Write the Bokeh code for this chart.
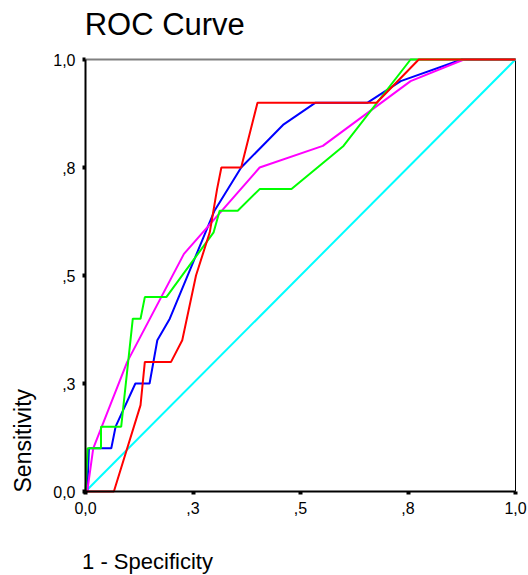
import math
from bokeh.plotting import figure
from bokeh.models import Range1d, FixedTicker, LinearAxis, Label
from bokeh.embed import file_html
from bokeh.resources import INLINE

# ---- data ----
tick_values = [0, 0.25, 0.5, 0.75, 1.0]
tick_labels = ["0,0", ",3", ",5", ",8", "1,0"]

blue_fpr = [0, 0.004, 0.008, 0.060, 0.070, 0.116, 0.149, 0.167, 0.196, 0.300, 0.362, 0.461, 0.535, 0.656, 0.733, 0.875, 1.0]
blue_tpr = [0, 0, 0.10, 0.10, 0.15, 0.25, 0.25, 0.35, 0.40, 0.65, 0.75, 0.85, 0.90, 0.90, 0.95, 1.0, 1.0]

magenta_fpr = [0, 0.004, 0.018, 0.097, 0.229, 0.405, 0.552, 0.756, 0.880, 1.0]
magenta_tpr = [0, 0, 0.10, 0.30, 0.55, 0.75, 0.80, 0.95, 1.0, 1.0]

green_fpr = [0, 0.005, 0.036, 0.036, 0.083, 0.110, 0.128, 0.138, 0.188, 0.298, 0.312, 0.354, 0.405, 0.479, 0.600, 0.756, 1.0]
green_tpr = [0, 0.10, 0.10, 0.15, 0.15, 0.40, 0.40, 0.45, 0.45, 0.60, 0.65, 0.65, 0.70, 0.70, 0.80, 1.0, 1.0]

red_fpr = [0, 0.066, 0.128, 0.138, 0.199, 0.225, 0.257, 0.289, 0.306, 0.316, 0.362, 0.400, 0.677, 0.775, 1.0]
red_tpr = [0, 0, 0.20, 0.30, 0.30, 0.35, 0.50, 0.60, 0.70, 0.75, 0.75, 0.90, 0.90, 1.0, 1.0]

ref_x = [0, 1]
ref_y = [0, 1]

title_text = "ROC Curve"
x_title = "1 - Specificity"
y_title = "Sensitivity"

FONT = "Liberation Sans"

# canvas 528x575; the unit square occupies pixels x 85..515, y 59..491
W, H = 528, 575
L, R, T, B = 85, 515, 59, 491
sx = R - L
sy = B - T
x_range = Range1d(-L / sx, (W - L) / sx)
y_range = Range1d(-(H - B) / sy, B / sy)

p = figure(width=W, height=H, output_backend="svg", toolbar_location=None,
           x_range=x_range, y_range=y_range,
           min_border=0, x_axis_location=None, y_axis_location=None)
p.background_fill_color = "white"
p.border_fill_color = "white"
p.outline_line_color = None
p.xgrid.visible = False
p.ygrid.visible = False

def style_axis(ax, standoff):
    ax.fixed_location = 0
    ax.bounds = (0, 1)
    ax.ticker = FixedTicker(ticks=tick_values)
    ax.axis_line_color = "black"
    ax.axis_line_width = 2
    ax.major_tick_line_color = "black"
    ax.minor_tick_line_color = None
    ax.major_tick_line_width = 4
    ax.major_tick_in = 0
    ax.major_tick_out = 3
    ax.major_label_overrides = {v: t for v, t in zip(tick_values, tick_labels)}
    ax.major_label_text_font = FONT
    ax.major_label_text_font_size = "16px"
    ax.major_label_text_color = "black"
    ax.major_label_standoff = standoff

# plot-area border: grey top, thin black right
p.line([0, 1], [1, 1], line_color="#808080", line_width=2)
p.line([1, 1], [0, 1], line_color="black", line_width=1)

lw = 2
p.line(ref_x, ref_y, line_color="#00FFFF", line_width=lw)
p.line(blue_fpr, blue_tpr, line_color="#0000FF", line_width=lw)
p.line(magenta_fpr, magenta_tpr, line_color="#FF00FF", line_width=lw)
p.line(green_fpr, green_tpr, line_color="#00FF00", line_width=lw)
p.line(red_fpr, red_tpr, line_color="#FF0000", line_width=lw)

xaxis = LinearAxis()
style_axis(xaxis, 7)
p.add_layout(xaxis, "below")
yaxis = LinearAxis()
style_axis(yaxis, 7)
p.add_layout(yaxis, "left")

p.add_layout(Label(x=-0.002, y=(B - 24) / sy, text=title_text, text_font=FONT, text_font_size="31px",
                   text_color="black", text_align="left", text_baseline="alphabetic"))
p.add_layout(Label(x=-0.008, y=(B - 561) / sy, text=x_title, text_font=FONT, text_font_size="22px",
                   text_color="black", text_align="left", text_baseline="alphabetic"))
p.add_layout(Label(x=(22 - L) / sx, y=(B - 492) / sy, text=y_title, text_font=FONT, text_font_size="23px",
                   text_color="black", text_align="left", text_baseline="alphabetic",
                   angle=math.pi / 2))

open("out.html", "w").write(file_html(p, INLINE))
